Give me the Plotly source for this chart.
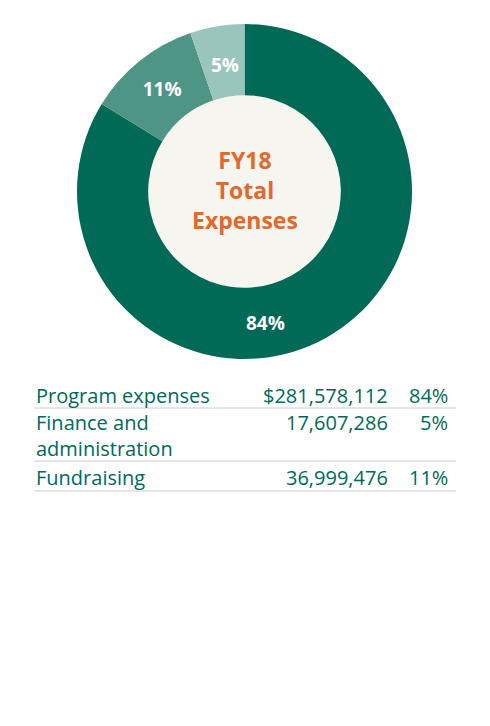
import plotly.graph_objects as go

# FY18 expense breakdown
categories = ["Program expenses", "Fundraising", "Finance and administration"]
amounts = [281578112, 36999476, 17607286]
row_labels = ["Program expenses", "Finance and<br>administration", "Fundraising"]
row_amounts = ["$281,578,112", "17,607,286", "36,999,476"]
row_pcts = ["84%", "5%", "11%"]
center_text = "FY18<br>Total<br>Expenses"

W, H = 490, 726
OFF = 8  # page margin of the browser
slice_colours = ["#006a56", "#4f9585", "#99c5bd"]
green = "#00695a"
font_name = "Open Sans"


def px(x):
    return (x - OFF) / W


def py(y):
    return 1 - (y - OFF) / H


total = sum(amounts)
pcts = ["%d%%" % round(100 * v / total) for v in amounts]
# only the middle slice uses the pie's own label, the others sit where the original put them
pie_text = ["", pcts[1], ""]

cx, cy, r_out, r_in = 244.5, 191.5, 167.5, 97

fig = go.Figure()

# cream disc in the hole
fig.add_trace(go.Pie(
    values=[1],
    marker=dict(colors=["#f6f5f0"], line=dict(width=0)),
    textinfo="none",
    hoverinfo="skip",
    sort=False,
    showlegend=False,
    domain=dict(x=[px(cx - r_in), px(cx + r_in)], y=[py(cy + r_in), py(cy - r_in)]),
))

fig.add_trace(go.Pie(
    labels=categories,
    values=amounts,
    hole=0.575,
    sort=False,
    direction="clockwise",
    rotation=0,
    marker=dict(colors=slice_colours, line=dict(width=0)),
    text=pie_text,
    textinfo="text",
    textposition="inside",
    insidetextorientation="horizontal",
    textfont=dict(family=font_name, size=19, color="white", weight="bold"),
    showlegend=False,
    domain=dict(x=[px(cx - r_out), px(cx + r_out)], y=[py(cy + r_out), py(cy - r_out)]),
))

annotations = [
    dict(x=px(265), y=py(323), xref="paper", yref="paper", yanchor="middle",
         text="<b>" + pcts[0] + "</b>", showarrow=False,
         font=dict(family=font_name, size=19, color="white")),
    dict(x=px(225), y=py(65), xref="paper", yref="paper", yanchor="middle",
         text="<b>" + pcts[2] + "</b>", showarrow=False,
         font=dict(family=font_name, size=19, color="white")),
    dict(x=px(cx), y=py(190), xref="paper", yref="paper", xanchor="center", yanchor="middle",
         text="<b>" + center_text + "</b>", showarrow=False,
         font=dict(family=font_name, size=23, color="#e0692c")),
]

row_y = [395, 435, 477]
for lab, amt, pct, y in zip(row_labels, row_amounts, row_pcts, row_y):
    top = y if "<br>" not in lab else 423
    annotations.append(dict(x=px(34), y=py(y), xref="paper", yref="paper", text=lab,
                            xanchor="left", yanchor="middle", align="left", showarrow=False,
                            font=dict(family=font_name, size=20, color=green)))
    annotations.append(dict(x=px(390), y=py(top), xref="paper", yref="paper", text=amt,
                            xanchor="right", yanchor="middle", showarrow=False,
                            font=dict(family=font_name, size=20, color=green)))
    annotations.append(dict(x=px(450), y=py(top), xref="paper", yref="paper", text=pct,
                            xanchor="right", yanchor="middle", showarrow=False,
                            font=dict(family=font_name, size=20, color=green)))

shapes = []
for y in [408, 461, 491]:
    shapes.append(dict(type="line", xref="paper", yref="paper",
                       x0=px(34), x1=px(456), y0=py(y), y1=py(y),
                       line=dict(color="#cccccc", width=1)))

fig.update_layout(
    width=W, height=H,
    margin=dict(l=0, r=0, t=0, b=0),
    paper_bgcolor="white",
    plot_bgcolor="white",
    annotations=annotations,
    shapes=shapes,
)

fig.write_html("out.html")
